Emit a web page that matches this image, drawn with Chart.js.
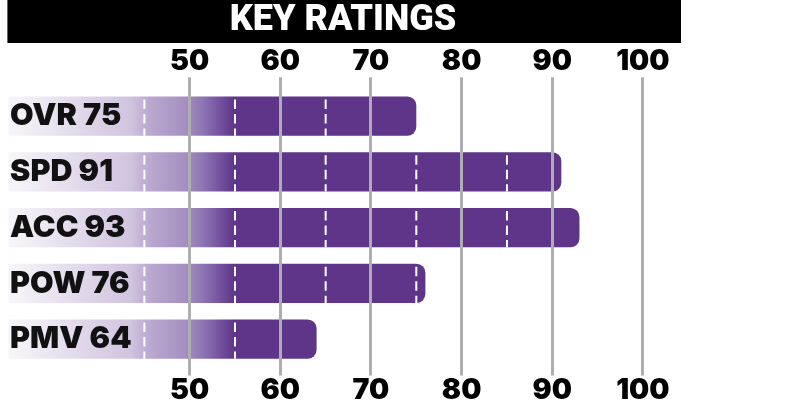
<!DOCTYPE html>
<html>
<head>
<meta charset="utf-8">
<script src="https://cdn.jsdelivr.net/npm/chart.js@4.4.1/dist/chart.umd.min.js"></script>
<style>
  html, body { margin: 0; padding: 0; background: #ffffff; }
  #wrap { width: 785px; height: 415px; position: relative; }
</style>
</head>
<body>
<div id="wrap"><canvas id="c"></canvas></div>
<script>
// ---- data ----
const titleText = "KEY RATINGS";
const ratingNames = ["OVR", "SPD", "ACC", "POW", "PMV"];
const ratingValues = [75, 91, 93, 76, 64];
const tickValues = [50, 60, 70, 80, 90, 100];
const dashValues = [45, 55, 65, 75, 85, 95];
const axisMin = 30;
const axisMax = 104.2;

// ---- styles ----
const PURPLE = "#5e3589";
const GRID = "#aeaeb2";
const FONT = "Inter, Lato, 'DejaVu Sans', sans-serif";
const TITLE_FONT = "Roboto, Inter, sans-serif";
const TITLE_GAP = 3;

const categoryLabels = ratingNames.map((n, i) => n + " " + ratingValues[i]);

function barGradient(ctx) {
  const chart = ctx.chart;
  if (!chart.chartArea) return PURPLE;
  const xs = chart.scales.x;
  const x0 = xs.getPixelForValue(axisMin);
  const x1 = xs.getPixelForValue(55);
  const g = chart.ctx.createLinearGradient(x0, 0, x1, 0);
  g.addColorStop(0, "#f8f6fa");
  g.addColorStop(0.54, "#d0c4df");
  g.addColorStop(0.62, "#bba9d0");
  g.addColorStop(0.78, "#a58fc0");
  g.addColorStop(0.86, "#8e74b2");
  g.addColorStop(0.96, "#6b4596");
  g.addColorStop(1, PURPLE);
  return g;
}

const titleBarPlugin = {
  id: "titleBar",
  beforeDraw(chart) {
    const tb = chart.titleBlock;
    const a = chart.chartArea;
    if (!tb || !a) return;
    const c = chart.ctx;
    c.save();
    c.fillStyle = "#000000";
    c.fillRect(a.left - 1, 0, a.right - a.left + 1, tb.bottom - TITLE_GAP);
    c.restore();
  }
};

const dashPlugin = {
  id: "barDashes",
  afterDatasetsDraw(chart) {
    const meta = chart.getDatasetMeta(0);
    const xs = chart.scales.x;
    const c = chart.ctx;
    c.save();
    c.strokeStyle = "#ffffff";
    c.lineWidth = 2;
    c.setLineDash([9.5, 5]);
    meta.data.forEach((bar, i) => {
      const v = ratingValues[i];
      const top = bar.y - bar.height / 2;
      const bottom = bar.y + bar.height / 2;
      dashValues.forEach(d => {
        if (d < v) {
          const x = xs.getPixelForValue(d);
          c.beginPath();
          c.moveTo(x, top + 3);
          c.lineTo(x, bottom);
          c.stroke();
        }
      });
    });
    c.restore();
  }
};

new Chart(document.getElementById("c"), {
  type: "bar",
  data: {
    labels: categoryLabels,
    datasets: [{
      data: ratingValues,
      backgroundColor: barGradient,
      borderWidth: 0,
      borderRadius: 9,
      borderSkipped: "start",
      barPercentage: 0.707,
      categoryPercentage: 1
    }]
  },
  options: {
    indexAxis: "y",
    responsive: true,
    maintainAspectRatio: false,
    animation: false,
    layout: { padding: { left: 5, right: 104, top: 0, bottom: 9 } },
    plugins: {
      legend: { display: false },
      tooltip: { enabled: false },
      title: {
        display: true,
        text: titleText,
        color: "#ffffff",
        font: { family: TITLE_FONT, size: 36, weight: "900", lineHeight: 1 },
        padding: { top: 3, bottom: 4 + TITLE_GAP }
      }
    },
    scales: {
      x: {
        type: "linear",
        position: "top",
        min: axisMin,
        max: axisMax,
        afterBuildTicks: s => { s.ticks = tickValues.map(v => ({ value: v })); },
        grid: { display: true, color: GRID, lineWidth: 3, drawTicks: true, tickLength: 11, z: 1 },
        border: { display: false },
        ticks: {
          color: "#000000",
          padding: 1.4,
          font: { family: FONT, size: 28.5, weight: "900", lineHeight: 1 },
          maxRotation: 0
        }
      },
      x2: {
        type: "linear",
        position: "bottom",
        min: axisMin,
        max: axisMax,
        afterBuildTicks: s => { s.ticks = tickValues.map(v => ({ value: v })); },
        grid: { display: true, drawOnChartArea: false, color: GRID, lineWidth: 3, drawTicks: true, tickLength: 8.5, z: 1 },
        border: { display: false },
        ticks: {
          color: "#000000",
          padding: 1,
          font: { family: FONT, size: 28.5, weight: "900", lineHeight: 1 },
          maxRotation: 0
        }
      },
      y: {
        type: "category",
        position: "left",
        grid: { display: false, drawTicks: false },
        border: { display: false },
        ticks: {
          mirror: true,
          padding: 1.7,
          z: 1,
          color: "#111111",
          font: { family: FONT, size: 30.5, weight: "900", lineHeight: 1 }
        }
      }
    }
  },
  plugins: [titleBarPlugin, dashPlugin]
});
</script>
</body>
</html>
